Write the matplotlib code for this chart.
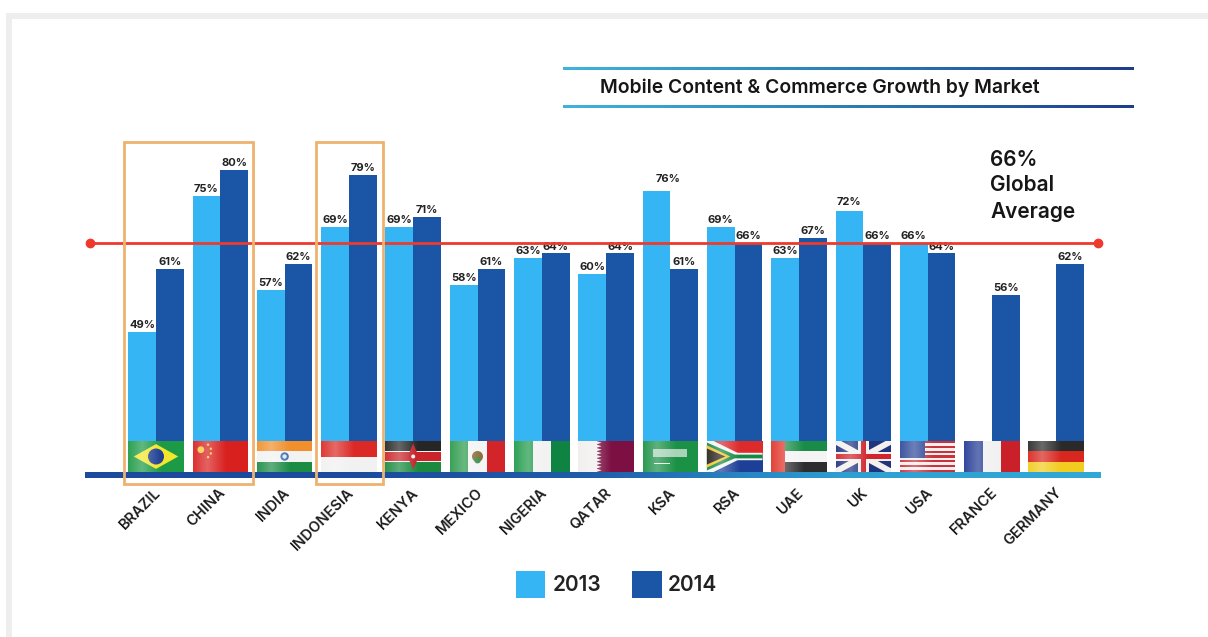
#!/usr/bin/env python
import numpy as np
import matplotlib
matplotlib.use("Agg")
import matplotlib.pyplot as plt
from matplotlib.colors import LinearSegmentedColormap
from matplotlib.patches import Circle, Polygon, Rectangle

W, H = 1208, 637

markets = ["BRAZIL", "CHINA", "INDIA", "INDONESIA", "KENYA", "MEXICO", "NIGERIA", "QATAR",
           "KSA", "RSA", "UAE", "UK", "USA", "FRANCE", "GERMANY"]
values_2013 = [49, 75, 57, 69, 69, 58, 63, 60, 76, 69, 63, 72, 66, None, None]
values_2014 = [61, 80, 62, 79, 71, 61, 64, 64, 61, 66, 67, 66, 64, 56, 62]
global_average = 66

LIGHT = "#35b5f4"
DARK = "#1b56a6"
ORANGE = "#eeb26f"
FONT = "Inter"

# pixel layout of the category axis
first_center, step = 156.0, 64.3
base_px, top_px = 473.0, 100.0
px_per_pct = 5.22
y_low = 80 - (base_px - 169.7) / px_per_pct
y_high = 80 + (169.7 - top_px) / px_per_pct
bar_w = 27.8 / step

fig = plt.figure(figsize=(W / 100, H / 100), dpi=100, facecolor="white")

# bars and their labels
ax = fig.add_axes([0, 1 - base_px / H, 1, (base_px - top_px) / H])
ax.patch.set_alpha(0)
ax.set_xlim(-first_center / step, (W - first_center) / step)
ax.set_ylim(y_low, y_high)
for s in ax.spines.values():
    s.set_visible(False)
ax.yaxis.set_visible(False)

x = np.arange(len(markets))
nudges = {8: (12, 5), 11: (0, 2)}
for i, (a, b) in enumerate(zip(values_2013, values_2014)):
    if a is not None:
        ax.bar(i - bar_w / 2, a - y_low, bar_w, bottom=y_low, color=LIGHT)
        dx, dy = nudges.get(i, (0, 0))
        ax.annotate(f"{a}%", (i - bar_w / 2, a), xytext=(dx * 0.72, (2 + dy) * 0.72),
                    textcoords="offset points", ha="center", va="bottom",
                    fontsize=8, fontweight="bold", family=FONT, color="#222222")
    ax.bar(i + bar_w / 2, b - y_low, bar_w, bottom=y_low, color=DARK)
    ax.annotate(f"{b}%", (i + bar_w / 2, b), xytext=(0, 1.5 * 0.72),
                textcoords="offset points", ha="center", va="bottom",
                fontsize=8, fontweight="bold", family=FONT, color="#222222")

ax.set_xticks(x - 2 / step)
ax.set_xticklabels(markets, rotation=45, ha="right", va="top", rotation_mode="anchor",
                   fontsize=10.5, fontweight="semibold", family=FONT, color="#1c1c1c")
ax.tick_params(axis="x", length=0, pad=9)

# global average line
ax.plot([(90 - first_center) / step, (1098 - first_center) / step], [global_average] * 2,
        color="#ee3a2c", lw=2, marker="o", ms=6, zorder=5, clip_on=False)

# everything else is placed in pixels on a second layer
ov = fig.add_axes([0, 0, 1, 1], zorder=3)
ov.patch.set_alpha(0)
ov.axis("off")


def rect(x0, y0, x1, y1, **kw):
    ov.add_patch(Rectangle((x0, y0), x1 - x0, y1 - y0, lw=kw.pop("lw", 0), **kw))


def gradient(x0, y0, x1, y1, colors, zorder=2):
    cmap = LinearSegmentedColormap.from_list("g", colors)
    ov.imshow(np.linspace(0, 1, 256)[None, :], cmap=cmap, extent=(x0, x1, y1, y0),
              aspect="auto", zorder=zorder, interpolation="bilinear")


# page frame
rect(6, 13, W, 19, color="#eeeeee")
rect(6, 13, 12, H, color="#eeeeee")

# header rules and title
for y in (69, 107):
    gradient(563, y - 1.5, 1134, y + 1.5, ["#3fb3de", "#2a7fb5", "#1f3d8c"])
ov.text(600, 88, "Mobile Content & Commerce Growth by Market", fontsize=13.9, fontweight="semibold",
        family=FONT, color="#161616", ha="left", va="center")

ov.text(990, 160, "66%", fontsize=15, fontweight="semibold", family=FONT, color="#161616", va="center")
ov.text(990, 185, "Global", fontsize=15, fontweight="semibold", family=FONT, color="#161616", va="center")
ov.text(990, 212, "Average", fontsize=15, fontweight="semibold", family=FONT, color="#161616", va="center")

# baseline
gradient(85, 472.5, 1101, 478, ["#1c4a9c", "#1c4a9c", "#1f5ea9", "#2f9fd2", "#31a8d8"])


def flag_frame(i):
    x0 = first_center + step * i - 27.8
    fw, fh = 55.6, 31.0
    y0 = 441.0
    return x0, y0, fw, fh


def hbands(i, colors, weights=None):
    x0, y0, fw, fh = flag_frame(i)
    weights = weights or [1] * len(colors)
    edges = np.cumsum([0] + weights) / sum(weights)
    for c, a, b in zip(colors, edges[:-1], edges[1:]):
        rect(x0, y0 + a * fh, x0 + fw, y0 + b * fh, color=c, zorder=3)


def vbands(i, colors, weights=None):
    x0, y0, fw, fh = flag_frame(i)
    weights = weights or [1] * len(colors)
    edges = np.cumsum([0] + weights) / sum(weights)
    for c, a, b in zip(colors, edges[:-1], edges[1:]):
        rect(x0 + a * fw, y0, x0 + b * fw, y0 + fh, color=c, zorder=3)


def poly(i, pts, color, z=4):
    x0, y0, fw, fh = flag_frame(i)
    ov.add_patch(Polygon([(x0 + u * fw, y0 + v * fh) for u, v in pts], color=color, lw=0, zorder=z))


def dot(i, u, v, r, color, z=5):
    x0, y0, fw, fh = flag_frame(i)
    ov.add_patch(Circle((x0 + u * fw, y0 + v * fh), r, color=color, lw=0, zorder=z))


# Brazil
hbands(0, ["#1d9a46"])
poly(0, [(0.1, 0.5), (0.5, 0.1), (0.9, 0.5), (0.5, 0.9)], "#f3e62c")
dot(0, 0.5, 0.5, 8, "#1f3f94")
# China
hbands(1, ["#d8201f"])
dot(1, 0.15, 0.28, 3.4, "#f7c93a")
for u, v in [(0.28, 0.12), (0.33, 0.25), (0.33, 0.4), (0.28, 0.52)]:
    dot(1, u, v, 1.2, "#f7c93a")
# India
hbands(2, ["#f08f2b", "#f2f2f2", "#1c8c45"])
dot(2, 0.5, 0.5, 4.2, "#3f6fb0")
dot(2, 0.5, 0.5, 2.2, "#dfe8f3")
# Indonesia
hbands(3, ["#db2a25", "#f1f1f1"])
# Kenya
hbands(4, ["#262626", "#f4f4f4", "#c9252a", "#f4f4f4", "#1b8a3f"], [10, 1, 9, 1, 10])
poly(4, [(0.5, 0.08), (0.6, 0.5), (0.5, 0.92), (0.4, 0.5)], "#c32026", z=5)
dot(4, 0.5, 0.5, 2, "#f2f2f2", z=6)
# Mexico
vbands(5, ["#2b9a4b", "#f4f4f4", "#d3242a"])
dot(5, 0.5, 0.5, 5.5, "#8a6b3a")
dot(5, 0.5, 0.62, 3.2, "#3d8c4a", z=6)
# Nigeria
vbands(6, ["#1f9a4a", "#f2f2f2", "#0f8442"])
# Qatar
vbands(7, ["#f2eeee", "#7c1043"], [1, 2])
saw = [(0.32, 0)]
for k in range(9):
    saw += [(0.42, (k + 0.5) / 9), (0.32, (k + 1) / 9)]
poly(7, saw + [(0.2, 1), (0.2, 0)], "#f2eeee")
# Saudi Arabia
hbands(8, ["#1b9146"])
rect(first_center + step * 8 - 17, 449, first_center + step * 8 + 17, 457, color="#d9eadf", zorder=4, alpha=0.75)
rect(first_center + step * 8 - 16, 463, first_center + step * 8 + 0, 464.3, color="#e7f3eb", zorder=4)
# South Africa
hbands(9, ["#dd2a2a", "#1d3f97"])
poly(9, [(0, 0), (0.12, 0), (0.55, 0.38), (1, 0.38), (1, 0.62), (0.55, 0.62), (0.12, 1), (0, 1)], "#f4f4f4", z=4)
poly(9, [(0, 0.05), (0.5, 0.44), (1, 0.44), (1, 0.56), (0.5, 0.56), (0, 0.95)], "#168a45", z=5)
poly(9, [(0, 0.14), (0.42, 0.5), (0, 0.86)], "#f5c52d", z=6)
poly(9, [(0, 0.24), (0.33, 0.5), (0, 0.76)], "#2b2420", z=7)
# UAE
hbands(10, ["#198c47", "#f4f4f4", "#2d2d2d"])
uae = flag_frame(10)
rect(uae[0], uae[1], uae[0] + 14, uae[1] + uae[3], color="#e0352a", zorder=4)
# UK
hbands(11, ["#21357f"])
poly(11, [(0, 0), (0.1, 0), (1, 0.88), (1, 1), (0.9, 1), (0, 0.12)], "#f3f0ee")
poly(11, [(1, 0), (0.9, 0), (0, 0.88), (0, 1), (0.1, 1), (1, 0.12)], "#f3f0ee")
poly(11, [(0.4, 0), (0.6, 0), (0.6, 1), (0.4, 1)], "#f3f0ee", z=5)
poly(11, [(0, 0.34), (1, 0.34), (1, 0.66), (0, 0.66)], "#f3f0ee", z=5)
poly(11, [(0.45, 0), (0.55, 0), (0.55, 1), (0.45, 1)], "#d1242e", z=6)
poly(11, [(0, 0.41), (1, 0.41), (1, 0.59), (0, 0.59)], "#d1242e", z=6)
# USA
hbands(12, ["#c9323a", "#f3eeee"] * 6 + ["#c9323a"])
poly(12, [(0, 0), (0.45, 0), (0.45, 0.54), (0, 0.54)], "#2f4a9b", z=5)
# France
vbands(13, ["#223a94", "#f1f1f1", "#c9202a"])
# Germany
hbands(14, ["#2a2a2a", "#d8271f", "#f2cc1e"])

# soft sheen across each flag
sheen = np.zeros((1, 64, 4))
sheen[..., :3] = 1
sheen[..., 3] = np.interp(np.linspace(0, 1, 64), [0, 0.25, 0.6, 1], [0.08, 0.3, 0.0, 0.0])
for i in range(len(markets)):
    fx, fy, fw, fh = flag_frame(i)
    ov.imshow(sheen, extent=(fx, fx + fw, fy + fh, fy), aspect="auto", zorder=8, interpolation="bilinear")

# highlight boxes
for bx0, bx1 in ((124, 253), (316, 383)):
    ov.add_patch(Rectangle((bx0, 142), bx1 - bx0, 342, fill=False, ec=ORANGE, lw=2, zorder=9))

# legend
rect(516, 571, 545, 598, color=LIGHT)
rect(632, 571, 662, 598, color=DARK)
ov.text(553, 585, "2013", fontsize=15, fontweight="semibold", family=FONT, color="#222222", va="center")
ov.text(668, 585, "2014", fontsize=15, fontweight="semibold", family=FONT, color="#222222", va="center")

ov.set_xlim(0, W)
ov.set_ylim(H, 0)

fig.savefig("out.png", dpi=100)
